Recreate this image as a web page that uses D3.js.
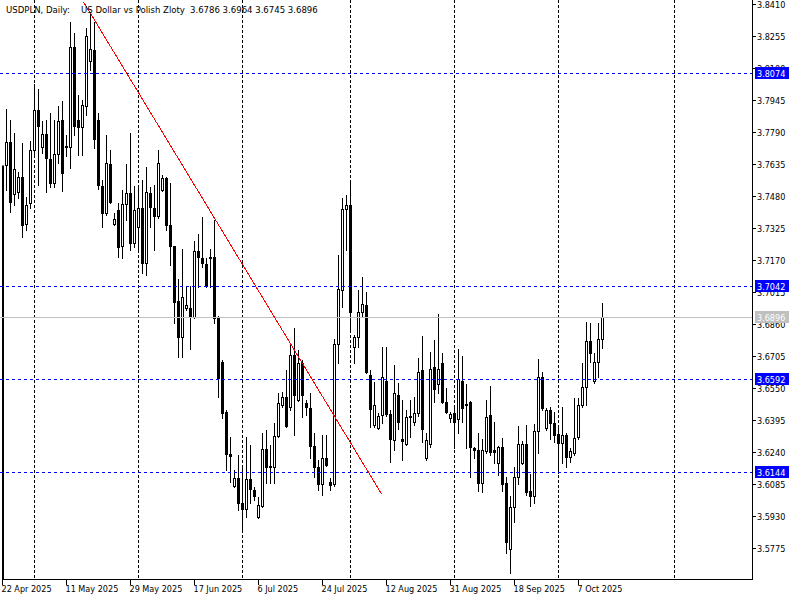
<!DOCTYPE html>
<html>
<head>
<meta charset="utf-8">
<script src="https://cdn.jsdelivr.net/npm/d3@7"></script>
<style>
body { margin: 0; background: #fff; }
svg { display: block; font-family: "DejaVu Sans Condensed", "DejaVu Sans", sans-serif; font-stretch: condensed; }
</style>
</head>
<body>
<div id="chart"></div>
<script>
// daily bars, index 1..150 (bar 0 = 22 Apr 2025 sits under the left edge)
var opens = [3.7630,3.7742,3.7490,3.7500,3.7572,3.7345,3.7446,3.7703,3.7897,3.7717,
  3.7780,3.7659,3.7543,3.7683,3.7848,3.7722,3.7717,3.8202,3.7848,3.7814,
  3.7916,3.8134,3.8187,3.7848,3.7528,3.7398,3.7635,3.7345,3.7413,3.7237,
  3.7441,3.7494,3.7253,3.7330,3.7422,3.7156,3.7494,3.7422,3.7383,3.7509,
  3.7567,3.7340,3.7237,3.6971,3.6797,3.6937,3.6937,3.6894,3.7214,3.7180,
  3.7151,3.7185,3.7185,3.6889,3.6676,3.6433,3.6230,3.6075,3.6114,3.5993,
  3.5964,3.6109,3.6056,3.5925,3.5979,3.6255,3.6172,3.6167,3.6317,3.6468,
  3.6506,3.6458,3.6710,3.6492,3.6671,3.6477,3.6453,3.6269,3.6167,3.6085,
  3.6211,3.6095,3.6085,3.6763,3.7025,3.7417,3.7437,3.6749,3.6797,3.6918,
  3.6952,3.6613,3.6370,3.6356,3.6419,3.6584,3.6424,3.6298,3.6516,3.6303,
  3.6279,3.6414,3.6385,3.6428,3.6637,3.6211,3.6279,3.6652,3.6569,3.6671,
  3.6482,3.6404,3.6428,3.6399,3.6584,3.6472,3.6482,3.6259,3.6250,3.6090,
  3.6245,3.6419,3.6250,3.6187,3.6264,3.6090,3.5770,3.5974,3.6119,3.6187,
  3.6279,3.6051,3.6027,3.6341,3.6603,3.6356,3.6443,3.6380,3.6327,3.6284,
  3.6322,3.6216,3.6235,3.6313,3.6468,3.6554,3.6777,3.6584,3.6676,3.6786];
var highs = [3.7901,3.7848,3.7785,3.7596,3.7737,3.7476,3.7746,3.8022,3.7998,3.7843,
  3.7848,3.7882,3.7848,3.7916,3.7940,3.7775,3.8322,3.8269,3.7969,3.7945,
  3.8293,3.8371,3.8322,3.7882,3.7557,3.7775,3.7703,3.7398,3.7446,3.7509,
  3.7635,3.7785,3.7528,3.7528,3.7557,3.7620,3.7523,3.7533,3.7703,3.7581,
  3.7570,3.7543,3.7240,3.7078,3.7224,3.7039,3.7044,3.7262,3.7296,3.7378,
  3.7180,3.7224,3.7364,3.6899,3.6685,3.6443,3.6313,3.6153,3.6226,3.6177,
  3.6313,3.6274,3.6070,3.6022,3.6332,3.6346,3.6274,3.6380,3.6525,3.6530,
  3.6637,3.6768,3.6840,3.6734,3.6685,3.6492,3.6525,3.6332,3.6201,3.6322,
  3.6322,3.6114,3.6787,3.7194,3.7471,3.7485,3.7548,3.6807,3.7025,3.7088,
  3.7015,3.6637,3.6579,3.6428,3.6749,3.6749,3.6443,3.6661,3.6574,3.6492,
  3.6443,3.6492,3.6506,3.6695,3.6802,3.6332,3.6724,3.6782,3.6908,3.6719,
  3.6550,3.6433,3.6453,3.6739,3.6705,3.6569,3.6485,3.6264,3.6332,3.6303,
  3.6492,3.6559,3.6385,3.6269,3.6308,3.6119,3.6027,3.6167,3.6366,3.6293,
  3.6370,3.6133,3.6375,3.6690,3.6627,3.6453,3.6458,3.6433,3.6361,3.6458,
  3.6332,3.6259,3.6501,3.6501,3.6671,3.6870,3.6865,3.6719,3.6865,3.6964];
var lows = [3.7509,3.7403,3.7437,3.7471,3.7282,3.7316,3.7422,3.7669,3.7533,3.7688,
  3.7500,3.7523,3.7523,3.7640,3.7504,3.7674,3.7616,3.7775,3.7678,3.7678,
  3.7872,3.8090,3.7712,3.7514,3.7330,3.7388,3.7446,3.7340,3.7185,3.7180,
  3.7364,3.7219,3.7233,3.7219,3.7107,3.7098,3.7330,3.7219,3.7374,3.7504,
  3.7316,3.7146,3.6865,3.6700,3.6700,3.6928,3.6739,3.6889,3.7039,3.7136,
  3.7039,3.7039,3.6865,3.6506,3.6404,3.6153,3.6095,3.6070,3.5959,3.5867,
  3.5925,3.5993,3.6008,3.5920,3.5974,3.6090,3.6090,3.6090,3.6313,3.6458,
  3.6361,3.6443,3.6322,3.6487,3.6409,3.6419,3.6211,3.6119,3.6056,3.6032,
  3.6172,3.6056,3.6075,3.6671,3.6942,3.7219,3.6831,3.6671,3.6749,3.6894,
  3.6622,3.6361,3.6361,3.6351,3.6380,3.6414,3.6191,3.6250,3.6351,3.6201,
  3.6274,3.6313,3.6370,3.6414,3.6288,3.6201,3.6264,3.6482,3.6525,3.6477,
  3.6428,3.6385,3.6259,3.6332,3.6385,3.6259,3.6119,3.6211,3.6051,3.6046,
  3.6235,3.6226,3.6187,3.6129,3.6051,3.5751,3.5654,3.5901,3.6085,3.6182,
  3.6032,3.5979,3.5993,3.6235,3.6443,3.6346,3.6303,3.6288,3.6138,3.6187,
  3.6167,3.6191,3.6226,3.6303,3.6458,3.6468,3.6676,3.6574,3.6603,3.6745];
var closes = [3.7742,3.7451,3.7611,3.7572,3.7340,3.7437,3.7703,3.7897,3.7819,3.7780,
  3.7664,3.7543,3.7683,3.7843,3.7591,3.7717,3.8202,3.7819,3.7814,3.7921,
  3.8255,3.8192,3.7756,3.7533,3.7398,3.7640,3.7451,3.7369,3.7233,3.7441,
  3.7494,3.7253,3.7413,3.7422,3.7156,3.7500,3.7427,3.7383,3.7640,3.7567,
  3.7340,3.7237,3.6966,3.6797,3.6990,3.6952,3.6894,3.7214,3.7185,3.7156,
  3.7044,3.7180,3.6889,3.6598,3.6428,3.6230,3.6221,3.6114,3.5993,3.5964,
  3.6109,3.6061,3.6027,3.5983,3.6255,3.6167,3.6167,3.6317,3.6477,3.6506,
  3.6366,3.6710,3.6516,3.6671,3.6516,3.6458,3.6269,3.6167,3.6085,3.6211,
  3.6177,3.6080,3.6763,3.7029,3.7417,3.7437,3.6918,3.6797,3.6918,3.6957,
  3.6627,3.6448,3.6468,3.6414,3.6603,3.6424,3.6303,3.6525,3.6385,3.6293,
  3.6409,3.6409,3.6428,3.6627,3.6351,3.6298,3.6642,3.6545,3.6642,3.6482,
  3.6433,3.6424,3.6385,3.6593,3.6453,3.6468,3.6264,3.6250,3.6090,3.6250,
  3.6409,3.6240,3.6240,3.6264,3.6085,3.5804,3.5974,3.6119,3.6279,3.6279,
  3.6046,3.6027,3.6341,3.6603,3.6453,3.6443,3.6380,3.6322,3.6284,3.6322,
  3.6216,3.6245,3.6308,3.6468,3.6554,3.6777,3.6719,3.6676,3.6787,3.6896];
var firstBar = 1;

var timeLabels = ["22 Apr 2025", "11 May 2025", "29 May 2025", "17 Jun 2025", "6 Jul 2025",
  "24 Jul 2025", "12 Aug 2025", "31 Aug 2025", "18 Sep 2025", "7 Oct 2025"];
var timeLabelBars = [0, 16, 32, 48, 64, 80, 96, 112, 128, 144];
var monthStartBars = [8, 34, 60, 87, 113, 139, 168];

var priceTicks = ["3.8410", "3.8255", "3.8100", "3.7945", "3.7790", "3.7635", "3.7480", "3.7325", "3.7170",
  "3.7015", "3.6860", "3.6705", "3.6550", "3.6395", "3.6240", "3.6085", "3.5930", "3.5775"];
var levels = [3.8074, 3.7042, 3.6592, 3.6144];
var bid = 3.6896;
var trendBars = [20.25, 94.75];
var trendPrices = [3.8420, 3.6037];

var header = ["USDPLN, Daily:", "US Dollar vs Polish Zloty", "3.6786 3.6964 3.6745 3.6896"];
var headerX = [6, 81, 190];

var W = 800, H = 600, plotR = 752, plotB = 579;

var svg = d3.select("#chart").append("svg")
    .attr("width", W)
    .attr("height", H);

var x = d3.scaleLinear().domain([0, 1]).range([2.5, 6.5]);
var y = d3.scaleLinear().domain([3.5775, 3.8410]).range([548, 4]);
function py(v) { return Math.round(y(v)) + 0.5; }

// month grid
svg.append("g").selectAll("line")
    .data(monthStartBars).enter().append("line")
    .attr("x1", function(d) { return x(d); })
    .attr("x2", function(d) { return x(d); })
    .attr("y1", 0).attr("y2", plotB)
    .attr("stroke", "#000")
    .attr("stroke-dasharray", "3,2");

// left edge
svg.append("line")
    .attr("x1", 3).attr("x2", 3)
    .attr("y1", py(3.7630)).attr("y2", plotB)
    .attr("stroke", "#000").attr("stroke-width", 2);

// candles
var bars = d3.range(opens.length).map(function(k) {
    return {i: k + firstBar, o: opens[k], h: highs[k], l: lows[k], c: closes[k]};
});

var candles = svg.append("g").selectAll("g")
    .data(bars).enter().append("g");

candles.append("line")
    .attr("x1", function(d) { return x(d.i); })
    .attr("x2", function(d) { return x(d.i); })
    .attr("y1", function(d) { return py(d.h) - 0.5; })
    .attr("y2", function(d) { return py(d.l) + 0.5; })
    .attr("stroke", "#000");

candles.append("rect")
    .attr("x", function(d) { return x(d.i) - 1; })
    .attr("y", function(d) { return py(Math.max(d.o, d.c)); })
    .attr("width", 2)
    .attr("height", function(d) { return py(Math.min(d.o, d.c)) - py(Math.max(d.o, d.c)); })
    .attr("fill", function(d) { return d.c < d.o ? "#000" : "#fff"; })
    .attr("stroke", "#000");

// horizontal levels
svg.append("g").selectAll("line")
    .data(levels).enter().append("line")
    .attr("x1", 0).attr("x2", plotR)
    .attr("y1", py).attr("y2", py)
    .attr("stroke", "#0000ff")
    .attr("stroke-dasharray", "3,3");

svg.append("line")
    .attr("x1", 0).attr("x2", plotR)
    .attr("y1", py(bid)).attr("y2", py(bid))
    .attr("stroke", "#c0c0c0");

// trend line
svg.append("line")
    .attr("x1", x(trendBars[0])).attr("y1", y(trendPrices[0]))
    .attr("x2", x(trendBars[1])).attr("y2", y(trendPrices[1]))
    .attr("stroke", "#ff0000")
    .attr("shape-rendering", "crispEdges");

// frame
svg.append("line")
    .attr("x1", plotR + 0.5).attr("x2", plotR + 0.5)
    .attr("y1", 0).attr("y2", plotB + 1)
    .attr("stroke", "#000");
svg.append("line")
    .attr("x1", 3).attr("x2", plotR + 1)
    .attr("y1", plotB + 0.5).attr("y2", plotB + 0.5)
    .attr("stroke", "#000");

// price scale
var pAxis = svg.append("g").attr("font-size", 9).attr("fill", "#000");
pAxis.selectAll("line")
    .data(priceTicks).enter().append("line")
    .attr("x1", plotR).attr("x2", plotR + 4)
    .attr("y1", function(d) { return py(+d); })
    .attr("y2", function(d) { return py(+d); })
    .attr("stroke", "#000");
pAxis.selectAll("text")
    .data(priceTicks).enter().append("text")
    .attr("x", plotR + 5)
    .attr("y", function(d) { return py(+d) + 3.5; })
    .text(function(d) { return d; });

function priceTag(v, col) {
    svg.append("rect")
        .attr("x", plotR + 3).attr("y", py(v) - 6.5)
        .attr("width", 34).attr("height", 12)
        .attr("fill", col);
    svg.append("text")
        .attr("x", plotR + 5).attr("y", py(v) + 3.5)
        .attr("font-size", 9)
        .attr("fill", "#fff")
        .text(v.toFixed(4));
}
levels.forEach(function(v) { priceTag(v, "#0000ff"); });
priceTag(bid, "#c0c0c0");

// time scale
var tAxis = svg.append("g").attr("font-size", 9).attr("fill", "#000");
tAxis.selectAll("line")
    .data(timeLabelBars).enter().append("line")
    .attr("x1", function(d) { return x(d); })
    .attr("x2", function(d) { return x(d); })
    .attr("y1", plotB).attr("y2", plotB + 6)
    .attr("stroke", "#000");
tAxis.selectAll("text")
    .data(timeLabels).enter().append("text")
    .attr("x", function(d, k) { return x(timeLabelBars[k]) - 1; })
    .attr("y", 592)
    .text(function(d) { return d; });

// header
svg.append("g").selectAll("text")
    .data(header).enter().append("text")
    .attr("x", function(d, k) { return headerX[k]; })
    .attr("y", 13)
    .attr("font-size", 9.5)
    .attr("fill", "#000")
    .text(function(d) { return d; });
</script>
</body>
</html>
